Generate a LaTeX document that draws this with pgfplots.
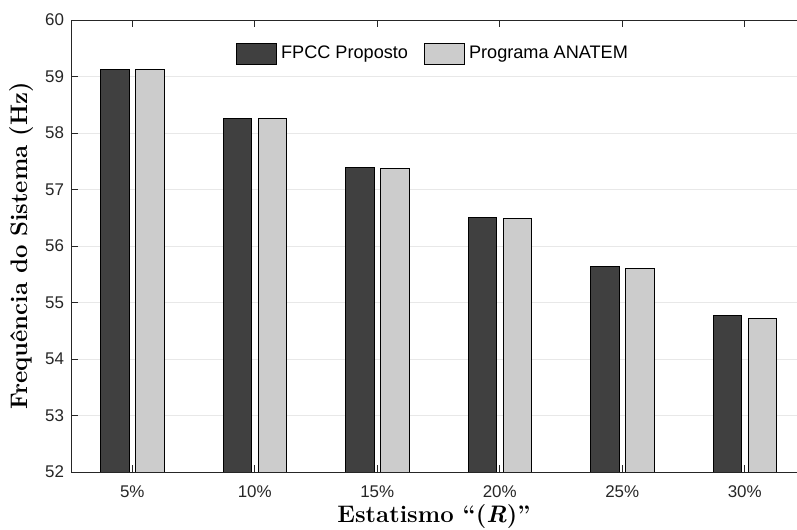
\documentclass[border=0pt]{standalone}
\usepackage{pgfplots}
\pgfplotsset{compat=1.18}
\usepackage{fontspec}
\newfontfamily\arial{Liberation Sans}
\definecolor{darkbar}{RGB}{64,64,64}
\definecolor{lightbar}{RGB}{204,204,204}
\definecolor{axcol}{RGB}{38,38,38}
\definecolor{gridcol}{RGB}{232,232,232}
\begin{document}
\begin{tikzpicture}
\begin{axis}[
  scale only axis, width=363bp, height=226bp,
  xmin=0.5, xmax=6.4265, ymin=52, ymax=60,
  axis x line=box, axis y line=left,
  axis line style={draw=axcol, line width=0.5bp, -},
  xtick pos=both, ytick pos=left,
  tick align=inside, major tick length=3.5bp,
  major tick style={axcol, line width=0.5bp},
  xtick={1,2,3,4,5,6},
  xticklabels={5\%,10\%,15\%,20\%,25\%,30\%},
  ytick={52,53,...,60},
  ymajorgrids, grid style={gridcol, line width=0.5bp},
  tick label style={font=\arial\fontsize{8.5}{10}\selectfont, text=axcol},
  xticklabel style={yshift=-3.5bp},
  /pgf/number format/assume math mode=true,
  every axis y label/.style={at={([xshift=-24.5bp]axis description cs:0,0.5)}, rotate=90, anchor=center},
  every axis x label/.style={at={([yshift=-22.5bp]axis description cs:0.5,0)}, anchor=center},
  xlabel={\fontsize{12}{14}\selectfont\bfseries Estatismo ``(\textit{R})''},
  ylabel={\fontsize{12}{14}\selectfont\bfseries Frequência do Sistema (Hz)},
  legend style={at={(0.5,0.925)}, anchor=center, draw=none, fill=none,
    font=\arial\fontsize{9.1}{11}\selectfont,
    /tikz/every even column/.append style={column sep=6bp}},
  legend columns=2, legend cell align=left,
]
\addplot[ybar, bar width=14.25bp, bar shift=-8.75bp, fill=darkbar, draw=black, line width=0.5bp,
  legend image code/.code={\draw[fill=darkbar, draw=black, line width=0.5bp] (0bp,-5.25bp) rectangle (20bp,5.25bp);}]
  coordinates {(1,59.13) (2,58.26) (3,57.39) (4,56.51) (5,55.64) (6,54.77)};
\addlegendentry{FPCC Proposto}
\addplot[ybar, bar width=14.25bp, bar shift=8.75bp, fill=lightbar, draw=black, line width=0.5bp,
  legend image code/.code={\draw[fill=lightbar, draw=black, line width=0.5bp] (0bp,-5.25bp) rectangle (20bp,5.25bp);}]
  coordinates {(1,59.12) (2,58.25) (3,57.37) (4,56.48) (5,55.60) (6,54.72)};
\addlegendentry{Programa ANATEM}
\coordinate (sw) at (rel axis cs:0,0);
\coordinate (ne) at (rel axis cs:1,1);
\end{axis}
\pgfresetboundingbox
\path ([shift={(-35.5bp,-29bp)}]sw) rectangle ([shift={(0bp,10bp)}]ne);
\end{tikzpicture}
\end{document}
